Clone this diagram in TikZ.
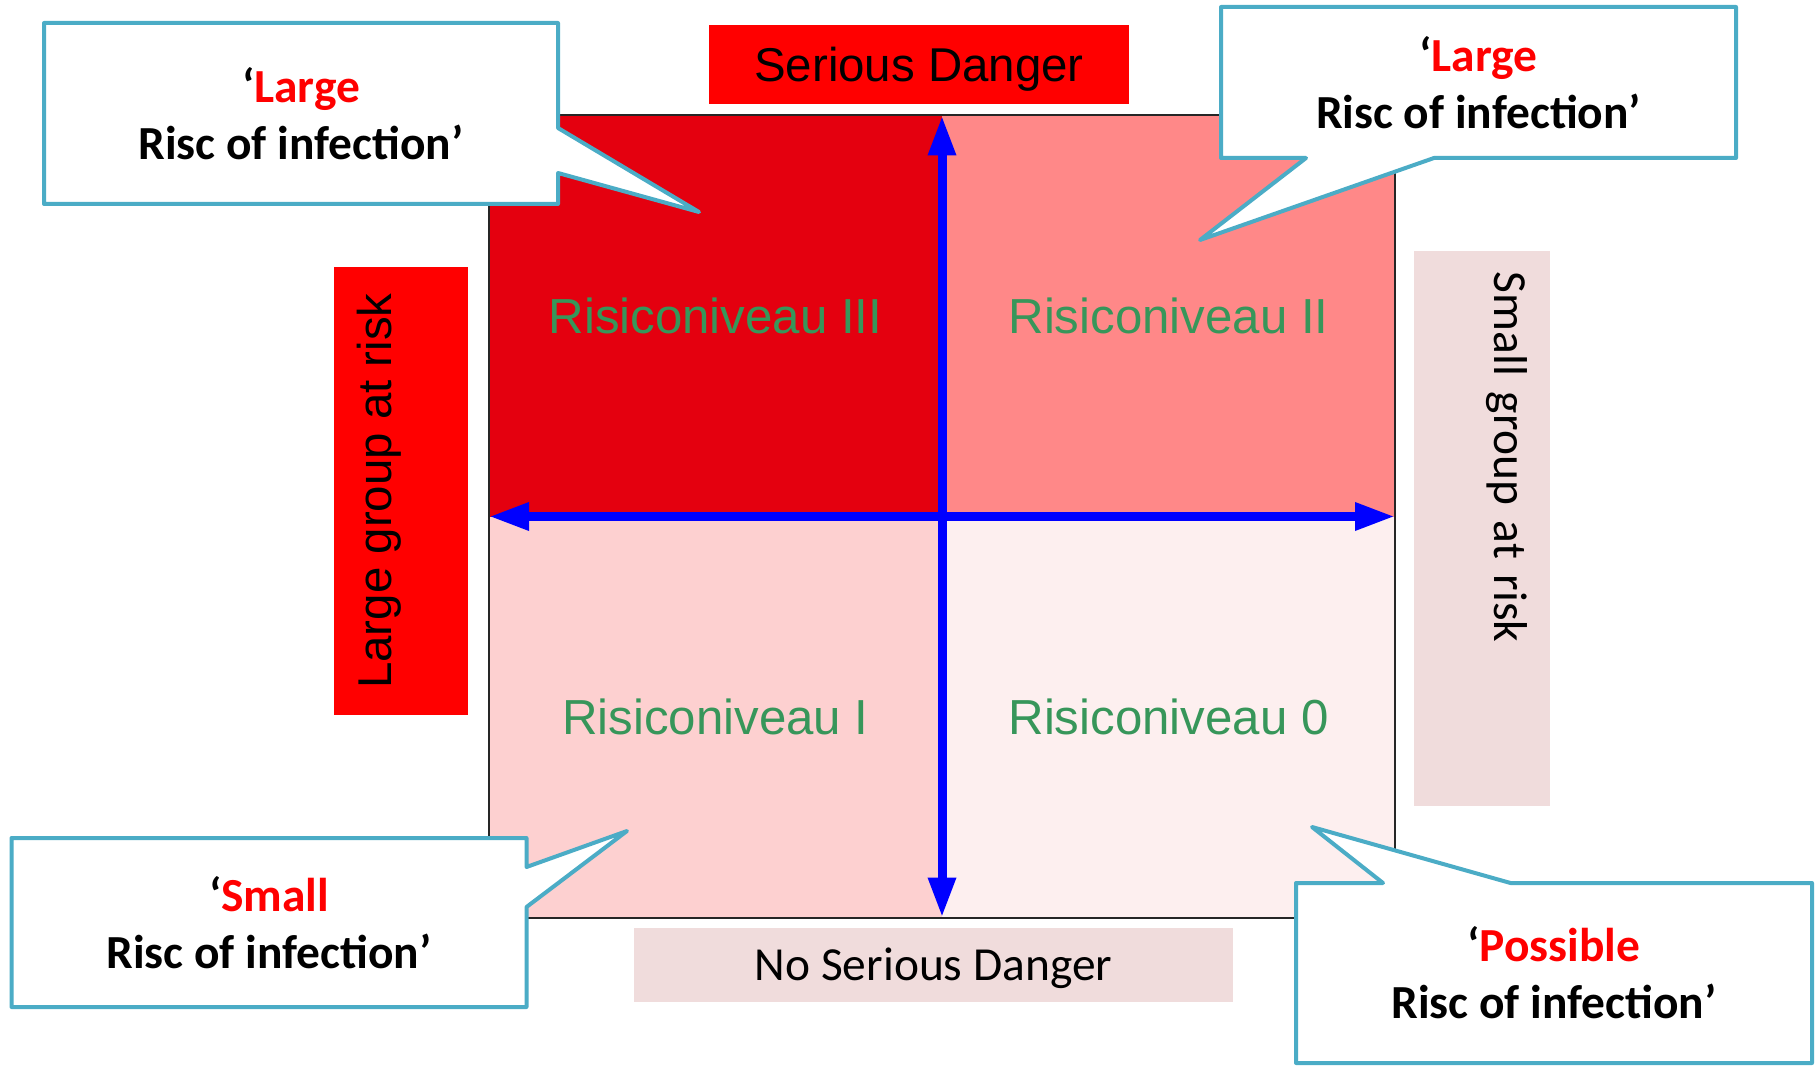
\documentclass[tikz,border=0pt]{standalone}
\usepackage{fontspec}
\setmainfont{Carlito}
\newfontfamily\arialfont{Liberation Sans}
\usepackage{tikz}
\usetikzlibrary{positioning}
\usetikzlibrary{arrows.meta}
\definecolor{lvlthree}{RGB}{228,0,15}
\definecolor{lvltwo}{RGB}{255,136,136}
\definecolor{lvlone}{RGB}{253,208,208}
\definecolor{lvlzero}{RGB}{253,239,239}
\definecolor{paleside}{RGB}{240,220,220}
\definecolor{balloonblue}{RGB}{75,172,198}
\definecolor{levelgreen}{RGB}{55,150,90}
\tikzstyle{riskaxis} = [draw=blue, line width=0.09cm, {Triangle[length=0.4cm,width=0.26cm]}-{Triangle[length=0.4cm,width=0.26cm]}]

\begin{document}
\begin{tikzpicture}[quadrant/.style={rectangle, minimum width=4.53cm, minimum height=4.01cm, inner sep=0pt, outer sep=0pt, text=levelgreen, font=\arialfont\fontsize{14}{17}\selectfont},
				sidebox/.style={rectangle, inner sep=0pt, font=\fontsize{13.5}{16}\selectfont},
				balloon/.style={rectangle, fill=white, inner sep=0pt, outer sep=0pt, align=center, font=\bfseries\fontsize{13.5}{16.2}\selectfont},
				balloonline/.style={draw=balloonblue, line width=0.04cm, line join=round}]
				\useasboundingbox (0,0) rectangle (18.17,-10.66);
				
				% risk matrix
				\node[quadrant, fill=lvlthree](lvl3) at (7.155, -3.16) {Risiconiveau III};
				\node[quadrant, fill=lvltwo, right=0cm of lvl3](lvl2) {Risiconiveau II};
				\node[quadrant, fill=lvlone, below=0cm of lvl3](lvl1) {Risiconiveau I};
				\node[quadrant, fill=lvlzero, below=0cm of lvl2](lvl0) {Risiconiveau 0};
				\draw[black!85, line width=0.02cm] (lvl3.north west) rectangle (lvl0.south east);
				
				\draw[riskaxis] (lvl3.south west) -- (lvl2.south east);
				\draw[riskaxis] (lvl3.north east) -- (lvl1.south east);
				
				% side labels
				\node[sidebox, fill=red, minimum width=4.2cm, minimum height=0.79cm, text height=0.34cm, text depth=0cm, font=\arialfont\fontsize{13.5}{16}\selectfont](serious) at (9.19, -0.645) {Serious Danger};
				\node[sidebox, fill=paleside, minimum width=5.99cm, minimum height=0.74cm, text height=0.31cm, text depth=0cm](noserious) at (9.335, -9.65) {No Serious Danger};
				\node[sidebox, fill=red, rotate=90, minimum width=4.48cm, text height=0.57cm, text depth=0.77cm, font=\arialfont\fontsize{13.5}{16}\selectfont](largegroup) at (4.01, -4.91) {Large group at risk};
				\node[sidebox, fill=paleside, rotate=-90, inner xsep=0.21cm, text width=5.13cm, text height=0.56cm, text depth=0.80cm](smallgroup) at (14.82, -5.285) {Small group at risk};
				
				% callouts
				\node[balloon, minimum width=5.14cm, minimum height=1.81cm](bigIII) at (3.01, -1.135) {‘\textcolor{red}{Large}\\Risc of infection’};
				\coordinate (tipIII) at (6.99, -2.12);
				\fill[white] ([yshift=-1.05cm]bigIII.north east) -- (tipIII) -- ([yshift=-1.5cm]bigIII.north east) -- cycle;
				\draw[balloonline] (bigIII.north west) -- (bigIII.north east) -- ([yshift=-1.05cm]bigIII.north east) -- (tipIII) -- ([yshift=-1.5cm]bigIII.north east) -- (bigIII.south east) -- (bigIII.south west) -- cycle;
				
				\node[balloon, minimum width=5.15cm, minimum height=1.51cm](bigII) at (14.785, -0.825) {‘\textcolor{red}{Large}\\Risc of infection’};
				\coordinate (tipII) at (12.0, -2.4);
				\fill[white] ([xshift=2.13cm]bigII.south west) -- (tipII) -- ([xshift=0.85cm]bigII.south west) -- cycle;
				\draw[balloonline] (bigII.north west) -- (bigII.north east) -- (bigII.south east) -- ([xshift=2.13cm]bigII.south west) -- (tipII) -- ([xshift=0.85cm]bigII.south west) -- (bigII.south west) -- cycle;
				
				\node[balloon, minimum width=5.15cm, minimum height=1.69cm](smallI) at (2.69, -9.225) {‘\textcolor{red}{Small}\\Risc of infection’};
				\coordinate (tipI) at (6.27, -8.31);
				\fill[white] ([yshift=-0.29cm]smallI.north east) -- (tipI) -- ([yshift=-0.69cm]smallI.north east) -- cycle;
				\draw[balloonline] (smallI.north west) -- (smallI.north east) -- ([yshift=-0.29cm]smallI.north east) -- (tipI) -- ([yshift=-0.69cm]smallI.north east) -- (smallI.south east) -- (smallI.south west) -- cycle;
				
				\node[balloon, minimum width=5.16cm, minimum height=1.8cm](possible0) at (15.54, -9.73) {‘\textcolor{red}{Possible}\\Risc of infection’};
				\coordinate (tip0) at (13.12, -8.27);
				\fill[white] ([xshift=0.87cm]possible0.north west) -- (tip0) -- ([xshift=2.145cm]possible0.north west) -- cycle;
				\draw[balloonline] (possible0.north west) -- ([xshift=0.87cm]possible0.north west) -- (tip0) -- ([xshift=2.145cm]possible0.north west) -- (possible0.north east) -- (possible0.south east) -- (possible0.south west) -- cycle;
				
			\end{tikzpicture}
\end{document}
